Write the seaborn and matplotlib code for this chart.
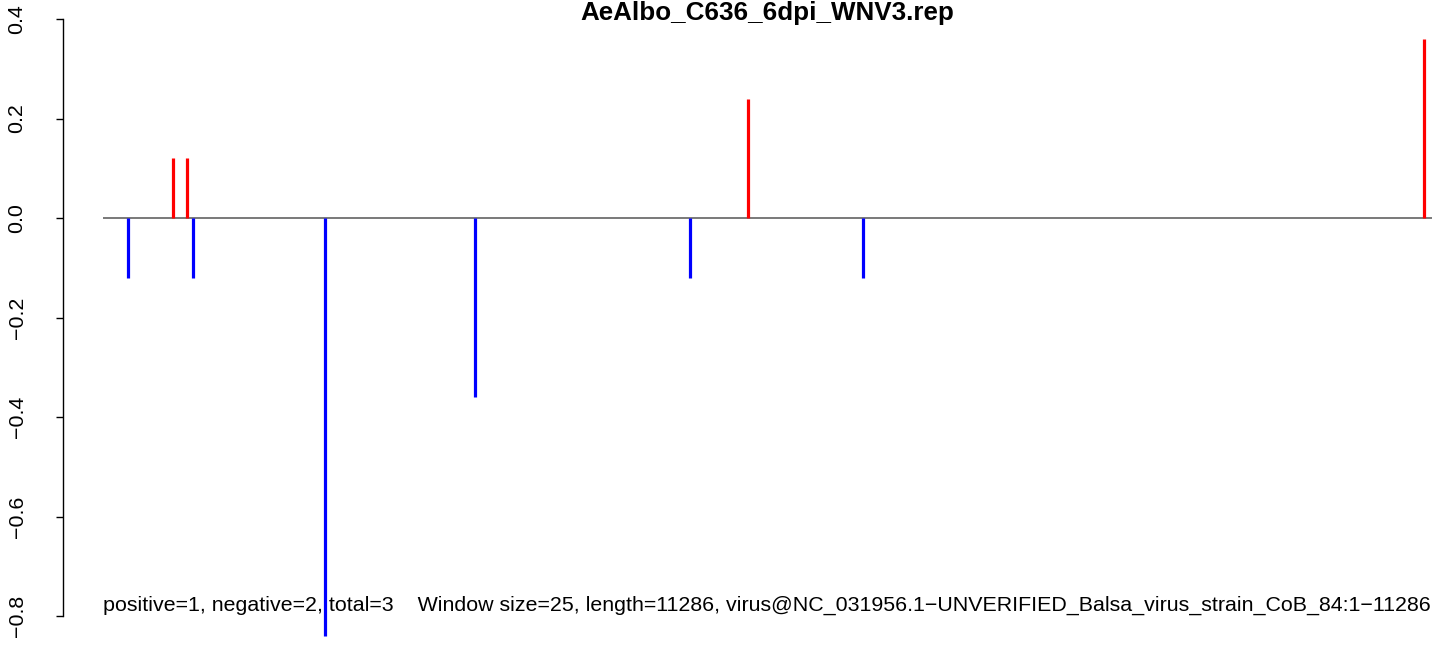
import matplotlib
matplotlib.use("Agg")
import matplotlib.pyplot as plt
import seaborn as sns
import numpy as np

title = "AeAlbo_C636_6dpi_WNV3.rep"
genome_length = 11286
positions = [212, 594, 713, 764, 1885, 3159, 4985, 5477, 6454, 11218]
values = [-0.12, 0.12, 0.12, -0.12, -0.84, -0.36, -0.12, 0.24, -0.12, 0.36]
yticks = [-0.8, -0.6, -0.4, -0.2, 0.0, 0.2, 0.4]
footer = ("positive=1, negative=2, total=3    Window size=25, length=11286, "
          "virus@NC_031956.1\u2212UNVERIFIED_Balsa_virus_strain_CoB_84:1\u221211286")

sns.set_style("white")
plt.rcParams['font.family'] = ['Liberation Sans', 'DejaVu Sans']
plt.rcParams['text.color'] = 'black'

W, H, DPI = 1444, 648, 100
fig = plt.figure(figsize=(W / DPI, H / DPI), dpi=DPI)
ax = fig.add_axes([0, 0, 1, 1])

# pixel mapping
px_per_x = (1432 - 103) / genome_length
x0 = -103 / px_per_x
x1 = (W - 103) / px_per_x
px_per_y = 497.5
ytop = 218 / px_per_y
ybot = -(H - 218) / px_per_y
ax.set_xlim(x0, x1)
ax.set_ylim(ybot, ytop)

vals = np.array(values)
pos = np.array(positions)
colors = np.where(vals > 0, "#FF0000", "#0000FF")
ax.hlines(0, 0, genome_length, color="#555555", lw=1.1, zorder=1)
ax.vlines(pos, 0, vals, colors=colors, lw=2.3, zorder=2)

for s in ["top", "right", "bottom"]:
    ax.spines[s].set_visible(False)
axis_x = (63 - 103) / px_per_x
ax.spines["left"].set_position(("data", axis_x))
ax.spines["left"].set_bounds(-0.8, 0.4)
ax.spines["left"].set_linewidth(1.0)
ax.spines["left"].set_color("black")
ax.set_yticks(yticks)
ax.set_yticklabels([f"{t:.1f}".replace("-", "\u2212") for t in yticks],
                   rotation=90, va="center", fontsize=15.4, color="black")
ax.tick_params(axis="y", left=True, length=5.2, width=1.0, pad=21, colors="black")
ax.set_xticks([])

ax.text(genome_length / 2, (218 - 20) / px_per_y, title, color="black",
        ha="center", va="baseline", fontsize=18.7, fontweight="bold")
ax.text(0, (218 - 605) / px_per_y, footer, color="black",
        ha="left", va="center", fontsize=15.4)

fig.savefig("out.png", dpi=DPI)
